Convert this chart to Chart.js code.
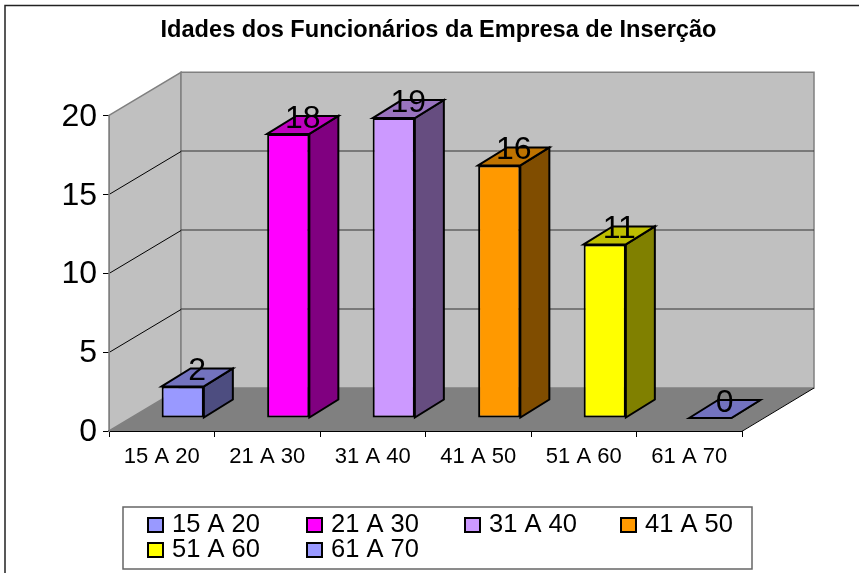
<!DOCTYPE html>
<html>
<head>
<meta charset="utf-8">
<style>html,body{margin:0;padding:0;background:#fff}#w{width:859px;height:573px;position:relative}</style>
<script src="https://cdn.jsdelivr.net/npm/chart.js@4"></script>
</head>
<body>
<div id="w"><canvas id="c" width="859" height="573"></canvas></div>
<script>
const chartTitle = "Idades dos Funcionários da Empresa de Inserção";
const categories = ["15 A 20","21 A 30","31 A 40","41 A 50","51 A 60","61 A 70"];
const values = [2,18,19,16,11,0];
const frontColors = ["#9999ff","#ff00ff","#cc99ff","#ff9900","#ffff00","#9999ff"];
const topColors = ["#7373bf","#bf00bf","#9973bf","#bf7300","#bfbf00","#7373bf"];
const sideColors = ["#4d4d80","#800080","#664d80","#804d00","#808000","#4d4d80"];

const FONT = "'Liberation Sans', Arial, sans-serif";
const WALL = {dx:72, dy:43};
const BAR = {ox:21, oy:13, dx:29, dy:18};

const walls = {
  id:'walls',
  afterLayout(chart){
    chart.titleBlock.left=0;
    chart.titleBlock.right=877;
  },
  beforeDraw(chart){
    const s=chart.scales.y;
    const items=s.getLabelItems();
    items.forEach(it=>{it.options.translation=[it.options.translation[0],it.options.translation[1]+1.5];});
  },
  beforeDatasetsDraw(chart){
    const {ctx, scales:{x,y}, chartArea:a} = chart;
    const l=a.left, r=a.right, t=a.top, b=a.bottom, dx=WALL.dx, dy=WALL.dy;
    ctx.save();
    ctx.lineWidth=1.5;
    const poly=(pts,fill,stroke)=>{ctx.beginPath();pts.forEach((p,i)=>i?ctx.lineTo(p[0],p[1]):ctx.moveTo(p[0],p[1]));ctx.closePath();
      if(fill){ctx.fillStyle=fill;ctx.fill();} if(stroke){ctx.strokeStyle=stroke;ctx.stroke();}};
    poly([[l,t],[l+dx,t-dy],[l+dx,b-dy],[l,b]],'#c0c0c0','#808080');
    poly([[l+dx,t-dy],[r+dx,t-dy],[r+dx,b-dy],[l+dx,b-dy]],'#c0c0c0','#808080');
    poly([[l,b],[l+dx,b-dy],[r+dx,b-dy],[r,b]],'#808080',null);
    ctx.lineWidth=1;
    ctx.strokeStyle='#000';
    ctx.beginPath();ctx.moveTo(r+.5,b);ctx.lineTo(r+dx,b-dy);ctx.stroke();
    y.ticks.forEach(tk=>{
      if(tk.value===0||tk.value===y.max) return;
      const py=Math.round(y.getPixelForValue(tk.value))+.5;
      ctx.strokeStyle='#000';
      ctx.beginPath();ctx.moveTo(l,py);ctx.lineTo(l+dx,py-dy);ctx.stroke();
      ctx.strokeStyle='#333';
      ctx.beginPath();ctx.moveTo(l+dx,py-dy-.5);ctx.lineTo(r+dx,py-dy-.5);ctx.stroke();
    });
    ctx.strokeStyle='#808080';
    ctx.beginPath();ctx.moveTo(l+.5,t);ctx.lineTo(l+.5,b);ctx.stroke();

    // bar depth faces, shifted to the bars' floor position
    const m=chart.getDatasetMeta(0);
    ctx.lineWidth=2;ctx.lineJoin='miter';
    m.data.forEach((el,i)=>{
      const hw=el.width/2, x0=el.x-hw+BAR.ox, x1=el.x+hw+BAR.ox, yt=el.y-BAR.oy, yb=el.base-BAR.oy;
      poly([[x1,yt],[x1+BAR.dx,yt-BAR.dy],[x1+BAR.dx,yb-BAR.dy],[x1,yb]],sideColors[i],'#000');
      poly([[x0,yt],[x0+BAR.dx,yt-BAR.dy],[x1+BAR.dx,yt-BAR.dy],[x1,yt]],topColors[i],'#000');
    });
    ctx.restore();
    ctx.save();
    ctx.translate(BAR.ox,-BAR.oy);
  },
  afterDatasetsDraw(chart){
    const {ctx}=chart;
    ctx.restore();
    const m=chart.getDatasetMeta(0);
    ctx.save();
    ctx.fillStyle='#000';ctx.font="32px "+FONT;ctx.textAlign='center';ctx.textBaseline='middle';
    m.data.forEach((el,i)=>{
      ctx.fillText(String(values[i]),el.x+BAR.ox+BAR.dx/2,el.y-BAR.oy-15);
    });
    ctx.restore();
  }
};

const frame = {
  id:'frame',
  afterDraw(chart){
    const {ctx}=chart;
    ctx.save();
    ctx.strokeStyle='#222';ctx.lineWidth=1.5;
    ctx.beginPath();ctx.moveTo(5,573);ctx.lineTo(5,5.5);ctx.lineTo(859,5.5);ctx.stroke();
    // legend
    ctx.fillStyle='#fff';ctx.strokeStyle='#666';ctx.lineWidth=1.5;
    ctx.fillRect(123,507,629,62);ctx.strokeRect(123,507,629,62);
    const colX=[148,307,465,621], rowY=[518,543];
    ctx.font="25.5px "+FONT;ctx.textBaseline='middle';ctx.textAlign='left';
    categories.forEach((c,i)=>{
      const X=colX[i%4], Y=rowY[Math.floor(i/4)];
      ctx.fillStyle=frontColors[i];ctx.strokeStyle='#000';ctx.lineWidth=2;
      ctx.fillRect(X,Y,15,14);ctx.strokeRect(X,Y,15,14);
      ctx.fillStyle='#000';
      ctx.fillText(c,X+24,Y+7);
    });
    ctx.restore();
  }
};

const chart = new Chart(document.getElementById('c'),{
  type:'bar',
  data:{labels:categories,datasets:[{data:values,backgroundColor:frontColors,borderColor:'#000',borderWidth:2,borderSkipped:false,barPercentage:0.4,categoryPercentage:1,clip:false}]},
  options:{
    responsive:false,animation:false,
    layout:{padding:{left:0,right:117,top:0,bottom:102}},
    plugins:{
      legend:{display:false},tooltip:{enabled:false},
      title:{display:true,text:chartTitle,color:'#000',align:'center',font:{family:FONT,size:23.6,weight:'bold',lineHeight:1.2},padding:{top:16,bottom:71}}
    },
    scales:{
      x:{afterFit(s){s.height=40;},
        border:{color:'#000',width:2},
        grid:{display:true,drawOnChartArea:false,drawTicks:true,tickLength:6,color:'#000',offset:true},
        ticks:{color:'#000',font:{family:FONT,size:22},maxRotation:0,padding:7}},
      y:{min:0,max:20,afterFit(s){s.width=109;},
        border:{color:'#808080',width:1},
        grid:{display:true,drawOnChartArea:false,drawTicks:true,tickLength:6,color:'#000'},
        ticks:{stepSize:5,color:'#000',font:{family:FONT,size:32},padding:6}}
    }
  },
  plugins:[walls,frame]
});
</script>
</body>
</html>
